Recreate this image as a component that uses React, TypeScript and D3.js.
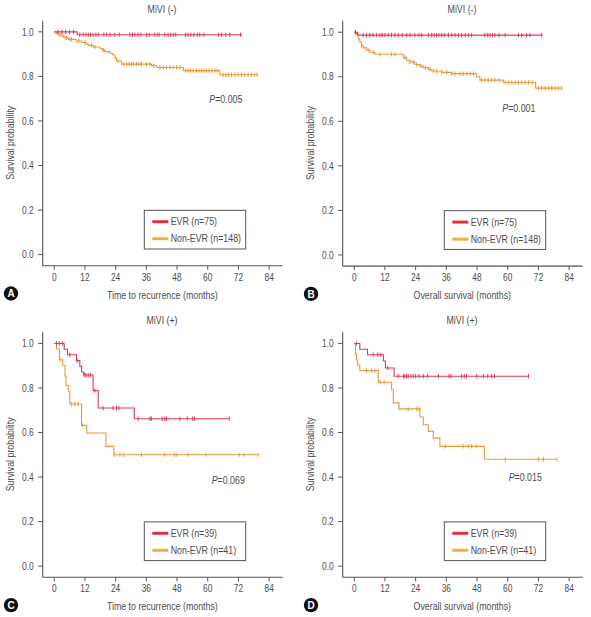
import React from 'react';
import * as d3 from 'd3';

type Ev = [number, number];

const xTicks = [0, 12, 24, 36, 48, 60, 72, 84];
const yTicks = [0, 0.2, 0.4, 0.6, 0.8, 1.0];

// Panel A: MiVI (-), time to recurrence
const aEvrEvents: Ev[] = [[9.0, 0.987]];
const aEvrEnd = 73.5;
const aEvrCensor = [1.5, 3, 4.5, 6, 7.5, 10.0, 11.3, 12.4, 13.3, 14.2, 15.2, 16.3, 17.2, 19.4, 20.5, 21.8, 23.7, 25.4, 29.6, 30.6, 31.5, 32.8, 33.9, 36.1, 37.1, 39.1, 40.2, 41.0, 43.2, 44.5, 45.5, 46.5, 47.5, 51.3, 52.3, 53.4, 54.6, 55.9, 56.9, 58.5, 64.3, 65.4, 67.1, 68.6, 72.8];
const aNonEvents: Ev[] = [[0.8, 0.993], [1.6, 0.986], [2.9, 0.98], [4.2, 0.973], [5.5, 0.966], [8.7, 0.959], [10.7, 0.952], [12.5, 0.945], [13.3, 0.939], [15.2, 0.932], [17.9, 0.925], [18.8, 0.918], [19.8, 0.911], [21.8, 0.904], [22.8, 0.897], [23.7, 0.883], [24.4, 0.869], [26.3, 0.855], [38.0, 0.848], [40.0, 0.840], [50.5, 0.826], [64.7, 0.807]];
const aNonEnd = 79.7;
const aNonCensor = [2.2, 3.5, 4.8, 6.1, 6.8, 9.6, 12.0, 14.6, 15.9, 19.3, 25.0, 27.2, 28.3, 29.3, 30.2, 31.1, 32.2, 33.2, 34.1, 36.1, 37.4, 38.9, 41.3, 42.6, 43.9, 45.2, 46.5, 47.8, 49.1, 51.4, 52.3, 53.3, 54.3, 55.6, 56.6, 57.6, 58.5, 59.5, 60.5, 61.6, 62.8, 63.7, 66.0, 67.1, 68.1, 69.3, 70.6, 71.9, 73.2, 74.5, 75.8, 77.1, 78.4, 79.3];

// Panel B: MiVI (-), overall survival
const bEvrEvents: Ev[] = [[1.3, 0.987]];
const bEvrEnd = 73.3;
const bEvrCensor = [0.5, 3.5, 4.8, 6.1, 7.4, 8.8, 10.1, 11.0, 12.0, 13.3, 14.6, 15.9, 17.2, 18.8, 20.5, 21.8, 23.7, 25.3, 26.4, 29.0, 30.3, 31.3, 32.2, 33.1, 34.2, 35.2, 36.8, 38.1, 39.4, 40.7, 42.0, 43.4, 44.6, 45.9, 51.1, 52.2, 53.1, 54.0, 55.0, 56.6, 59.0, 64.2, 65.5, 67.4, 68.7, 73.3];
const bNonEvents: Ev[] = [[0.9, 0.99], [1.6, 0.97], [2.2, 0.955], [2.9, 0.94], [3.5, 0.93], [4.8, 0.92], [6.1, 0.91], [8.1, 0.901], [19.2, 0.886], [20.5, 0.874], [21.8, 0.867], [23.7, 0.855], [25.7, 0.848], [27.0, 0.841], [29.0, 0.834], [30.3, 0.826], [34.2, 0.82], [38.1, 0.814], [47.8, 0.80], [49.1, 0.785], [58.3, 0.774], [70.9, 0.749]];
const bNonEnd = 81.1;
const bNonCensor = [2.9, 5.5, 7.4, 10.1, 14.6, 15.9, 19.8, 21.8, 23.1, 24.4, 26.1, 27.9, 29.6, 30.9, 32.2, 34.2, 36.2, 38.1, 39.4, 41.4, 42.6, 44.0, 45.3, 46.6, 49.8, 51.1, 52.4, 53.7, 55.0, 56.6, 59.0, 60.3, 61.6, 62.9, 64.2, 65.5, 66.8, 68.1, 69.6, 72.0, 73.3, 74.6, 75.9, 77.2, 78.5, 79.8, 81.1];

// Panel C: MiVI (+), time to recurrence
const cEvrEvents: Ev[] = [[3.9, 0.974], [5.2, 0.949], [8.7, 0.923], [10.0, 0.897], [10.7, 0.872], [11.5, 0.858], [15.2, 0.788], [17.2, 0.71], [31.3, 0.662]];
const cEvrEnd = 68.4;
const cEvrCensor = [0.9, 2.0, 3.3, 6.1, 9.0, 11.8, 12.4, 13.3, 14.2, 15.9, 19.1, 23.0, 24.4, 25.3, 32.8, 37.4, 38.0, 42.2, 43.2, 43.9, 49.1, 52.0, 54.1, 54.9, 68.4];
const cNonEvents: Ev[] = [[0.9, 0.976], [2.0, 0.927], [3.3, 0.902], [4.2, 0.854], [4.6, 0.811], [5.5, 0.785], [6.1, 0.728], [10.7, 0.632], [12.7, 0.598], [20.2, 0.538], [23.3, 0.5]];
const cNonEnd = 79.7;
const cNonCensor = [2.3, 6.8, 8.1, 9.4, 11.1, 23.7, 25.7, 27.2, 34.1, 43.2, 47.1, 48.0, 52.3, 59.3, 72.3, 74.2, 79.7];

// Panel D: MiVI (+), overall survival
const dEvrEvents: Ev[] = [[2.2, 0.974], [5.2, 0.949], [11.4, 0.921], [12.2, 0.89], [15.6, 0.853]];
const dEvrEnd = 68.1;
const dEvrCensor = [0.9, 7.4, 9.2, 10.4, 13.1, 17.2, 19.2, 19.8, 20.5, 21.1, 22.2, 23.1, 24.0, 25.3, 27.0, 28.7, 32.9, 37.0, 37.8, 42.0, 43.0, 43.9, 47.9, 50.5, 52.2, 53.7, 54.8, 68.1];
const dNonEvents: Ev[] = [[0.5, 0.951], [0.9, 0.927], [1.3, 0.902], [2.2, 0.878], [9.4, 0.826], [14.6, 0.793], [15.3, 0.733], [17.5, 0.706], [25.7, 0.67], [27.0, 0.635], [29.0, 0.605], [30.9, 0.575], [33.5, 0.538], [50.9, 0.48]];
const dNonEnd = 79.2;
const dNonCensor = [4.8, 6.8, 8.1, 10.1, 11.7, 21.1, 24.4, 25.3, 35.5, 42.6, 44.6, 45.9, 47.9, 59.0, 72.0, 74.0, 79.2];

const titles = ['MiVI (-)', 'MiVI (-)', 'MiVI (+)', 'MiVI (+)'];
const xLabels = ['Time to recurrence (months)', 'Overall survival (months)', 'Time to recurrence (months)', 'Overall survival (months)'];
const letters = ['A', 'B', 'C', 'D'];
const pValues = ['0.005', '0.001', '0.069', '0.015'];
const evrN = [75, 75, 39, 39];
const nonN = [148, 148, 41, 41];

const RED = '#dc3c58';
const ORANGE = '#e99a3a';
const RED_SW = '#e0303c';
const YEL_SW = '#e8b534';
const TXT = '#4d4d4d';
const AX = '#555';
const FONT = '"Liberation Sans", Arial, sans-serif';
const SX = 0.84;

type Curve = { events: Ev[]; end: number; censor: number[]; color: string };

const panels = [
  { ox: 0, oy: 0, pX: 209.3, pY: 102.5, curves: [
    { events: aNonEvents, end: aNonEnd, censor: aNonCensor, color: ORANGE },
    { events: aEvrEvents, end: aEvrEnd, censor: aEvrCensor, color: RED },
  ] },
  { ox: 300, oy: 0.4, pX: 202.3, pY: 111.2, curves: [
    { events: bNonEvents, end: bNonEnd, censor: bNonCensor, color: ORANGE },
    { events: bEvrEvents, end: bEvrEnd, censor: bEvrCensor, color: RED },
  ] },
  { ox: 0, oy: 311.6, pX: 211.7, pY: 171.9, curves: [
    { events: cNonEvents, end: cNonEnd, censor: cNonCensor, color: ORANGE },
    { events: cEvrEvents, end: cEvrEnd, censor: cEvrCensor, color: RED },
  ] },
  { ox: 300, oy: 311.6, pX: 208.7, pY: 169.4, curves: [
    { events: dNonEvents, end: dNonEnd, censor: dNonCensor, color: ORANGE },
    { events: dEvrEvents, end: dEvrEnd, censor: dEvrCensor, color: RED },
  ] },
];

function survAt(events: Ev[], t: number) {
  let s = 1;
  for (const [et, es] of events) if (et <= t) s = es;
  return s;
}

function T({ x, y, anchor = 'start', size = 10.5, sx = SX, rot = 0, children, dy = '0.35em', ...rest }: any) {
  return (
    <text
      transform={`translate(${x},${y})${rot ? ` rotate(${rot})` : ''} scale(${sx},1)`}
      textAnchor={anchor}
      fontSize={size}
      dy={dy}
      {...rest}
    >
      {children}
    </text>
  );
}

function Panel({ idx }: { idx: number }) {
  const p = panels[idx];
  const { ox, oy } = p;
  const x = d3.scaleLinear().domain([-4.5, 89.3]).range([ox + 42.7, ox + 282.7]);
  const y = d3.scaleLinear().domain([-0.05, 1.05]).range([oy + 265.7, oy + 20.7]);
  const line = d3
    .line<[number, number]>()
    .x((d) => x(d[0]))
    .y((d) => y(d[1]))
    .curve(d3.curveStepAfter);
  const x0 = ox + 42.7;
  const yBase = oy + 265.7;
  return (
    <g fontFamily={FONT} fill={TXT}>
      <T x={ox + 162} y={oy + 9} anchor="middle">{titles[idx]}</T>
      {/* axes */}
      <line x1={x0} x2={x0} y1={oy + 20.7} y2={yBase} stroke={AX} strokeWidth={1.1} />
      <line x1={x0} x2={ox + 282.7} y1={yBase} y2={yBase} stroke={AX} strokeWidth={1.1} />
      {yTicks.map((t) => (
        <g key={'y' + t}>
          <line x1={x0 - 4.5} x2={x0} y1={y(t)} y2={y(t)} stroke={AX} strokeWidth={1} />
          <T x={x0 - 9} y={y(t)} anchor="end" sx={0.8}>{t.toFixed(1)}</T>
        </g>
      ))}
      {xTicks.map((t) => (
        <g key={'x' + t}>
          <line x1={x(t)} x2={x(t)} y1={yBase} y2={yBase + 4} stroke={AX} strokeWidth={1} />
          <T x={x(t)} y={oy + 277} anchor="middle" sx={0.8}>{t}</T>
        </g>
      ))}
      <T x={ox + 162.3} y={oy + 295} anchor="middle">{xLabels[idx]}</T>
      <T x={ox + 10} y={oy + 142.7} rot={-90} anchor="middle">Survival probability</T>
      <circle cx={ox + 11} cy={oy + 293.5} r={7.2} fill="#111" />
      <text x={ox + 11} y={oy + 293.5} dy="0.36em" fontSize={10} fontWeight="bold" fill="#fff" textAnchor="middle">{letters[idx]}</text>
      {/* curves */}
      {p.curves.map((c: Curve, ci) => {
        const pts: [number, number][] = [[0, 1], ...c.events, [c.end, c.events[c.events.length - 1][1]]];
        return (
          <g key={ci}>
            <path d={line(pts) || ''} fill="none" stroke={c.color} strokeWidth={1.1} />
            {c.censor.map((t, k) => (
              <line key={k} x1={x(t)} x2={x(t)} y1={y(survAt(c.events, t)) - 2.2} y2={y(survAt(c.events, t)) + 2.2} stroke={c.color} strokeWidth={1} />
            ))}
          </g>
        );
      })}
      {/* p value */}
      <T x={ox + p.pX} y={oy + p.pY} dy="0">
        <tspan fontStyle="italic">P</tspan>
        <tspan>={pValues[idx]}</tspan>
      </T>
      {/* legend */}
      <rect x={ox + 144.3} y={oy + 210.3} width={101.4} height={38.7} fill="#fff" stroke={AX} strokeWidth={1} />
      <line x1={ox + 152.3} x2={ox + 168.3} y1={oy + 221.7} y2={oy + 221.7} stroke={RED_SW} strokeWidth={3} />
      <line x1={ox + 152.3} x2={ox + 168.3} y1={oy + 238.7} y2={oy + 238.7} stroke={YEL_SW} strokeWidth={3} />
      <T x={ox + 170.7} y={oy + 221.7}>{`EVR (n=${evrN[idx]})`}</T>
      <T x={ox + 170.7} y={oy + 238.7}>{`Non-EVR (n=${nonN[idx]})`}</T>
    </g>
  );
}

export default function App() {
  return (
    <svg width={591} height={617} style={{ position: 'absolute', left: 0, top: 0, background: '#fff' }}>
      <rect width={591} height={617} fill="#fff" />
      {panels.map((_, i) => (
        <Panel key={i} idx={i} />
      ))}
    </svg>
  );
}
